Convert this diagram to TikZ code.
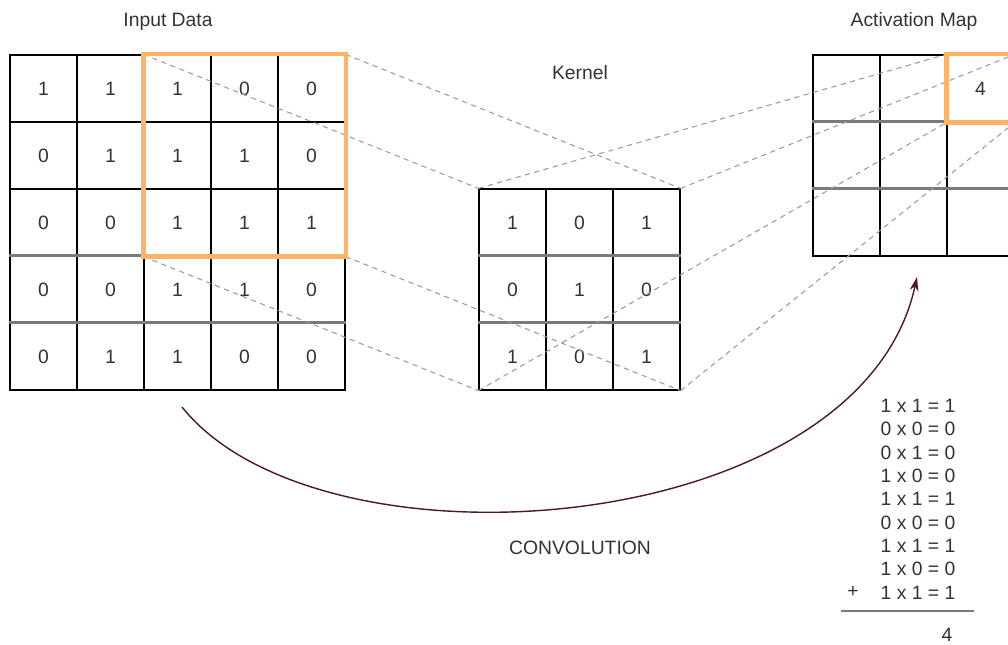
\documentclass[tikz,border=0pt]{standalone}
\usepackage{fontspec}
\setmainfont{Liberation Sans}
\usepackage{tikz}
\usetikzlibrary{arrows.meta}
\definecolor{txtgray}{HTML}{333333}
\definecolor{selorange}{HTML}{FFB366}
\definecolor{guidegray}{HTML}{9A9A9A}
\definecolor{rowgray}{HTML}{7A7A7A}
\definecolor{convred}{HTML}{4D1A1A}

\begin{document}
\begin{tikzpicture}[
      x=0.02cm, y=-0.02cm,
      lbl/.style={font=\fontsize{11}{13}\selectfont, text=txtgray, inner sep=0pt},
      cell/.style={lbl, draw, line width=0.7pt, minimum size=1.34cm, inner sep=0pt},
      rowline/.style={draw=rowgray, line width=1.5pt},
      guide/.style={draw=guidegray, line width=0.6pt, dash pattern=on 3pt off 2.5pt},
      sel/.style={draw=selorange, line width=2.4pt},
    ]
    \useasboundingbox (0,0) rectangle (1008,645);
    % titles
    \node[lbl] (tin) at (168,22) {Input Data};
    \node[lbl] (tker) at (580,73) {Kernel};
    \node[lbl] (tact) at (914,22) {Activation Map};
    % input data 5x5
    \foreach \row [count=\ri from 1] in {%
        {1,1,1,0,0}, {0,1,1,1,0}, {0,0,1,1,1}, {0,0,1,1,0}, {0,1,1,0,0}} {
      \foreach \val [count=\ci from 1] in \row
        \node[cell] (in-\ri-\ci) at (10+67*\ci-33.5, 55+67*\ri-33.5) {\val};
    }
    % kernel 3x3
    \foreach \row [count=\ri from 1] in {{1,0,1}, {0,1,0}, {1,0,1}} {
      \foreach \val [count=\ci from 1] in \row
        \node[cell] (kr-\ri-\ci) at (479+67*\ci-33.5, 189+67*\ri-33.5) {\val};
    }
    % activation map 3x3
    \foreach \ri in {1,2,3} {
      \foreach \ci in {1,2,3}
        \node[cell] (am-\ri-\ci) at (813+67*\ci-33.5, 55+67*\ri-33.5) {};
    }
    \node[lbl] (amval) at (am-1-3) {4};
    % grey row rules
    \draw[rowline] (in-4-1.north west) -- (in-4-5.north east);
    \draw[rowline] (in-5-1.north west) -- (in-5-5.north east);
    \draw[rowline] (kr-2-1.north west) -- (kr-2-3.north east);
    \draw[rowline] (kr-3-1.north west) -- (kr-3-3.north east);
    \draw[rowline] (am-2-1.north west) -- (am-2-3.north east);
    \draw[rowline] (am-3-1.north west) -- (am-3-3.north east);
    % projection guides
    \draw[guide] (in-1-3.north west) -- (kr-1-1.north west);
    \draw[guide] (in-1-5.north east) -- (kr-1-3.north east);
    \draw[guide] (in-3-3.south west) -- (kr-3-1.south west);
    \draw[guide] (in-3-5.south east) -- (kr-3-3.south east);
    \draw[guide] (kr-1-1.north west) -- (am-1-3.north west);
    \draw[guide] (kr-1-3.north east) -- (am-1-3.north east);
    \draw[guide] (kr-3-1.south west) -- (am-1-3.south west);
    \draw[guide] (kr-3-3.south east) -- (am-1-3.south east);
    % selections
    \draw[sel] (in-1-3.north west) rectangle (in-3-5.south east);
    \draw[sel] (am-1-3.north west) rectangle (am-1-3.south east);
    % convolution arrow
    \coordinate (convstart) at (182,407);
    \coordinate (convend) at (917,277);
    \draw[convred, line width=0.8pt, -{Stealth[length=8pt, width=5pt]}]
      (convstart) .. controls (320,580) and (860,540) .. (convend);
    \node[lbl] (conv) at (580,548) {CONVOLUTION};
    % products
    \foreach \eq [count=\k from 0] in {%
        1 x 1 = 1, 0 x 0 = 0, 0 x 1 = 0, 1 x 0 = 0, 1 x 1 = 1,
        0 x 0 = 0, 1 x 1 = 1, 1 x 0 = 0, 1 x 1 = 1}
      \node[lbl] (eq\k) at (918, 406+23.3*\k) {\eq};
    \node[lbl] (plus) at (853,592) {+};
    \coordinate (sumleft) at (841,611);
    \coordinate (sumright) at (974,611);
    \draw[rowgray, line width=1.2pt] (sumleft) -- (sumright);
    \node[lbl] (total) at (947,635) {4};
  \end{tikzpicture}
\end{document}
